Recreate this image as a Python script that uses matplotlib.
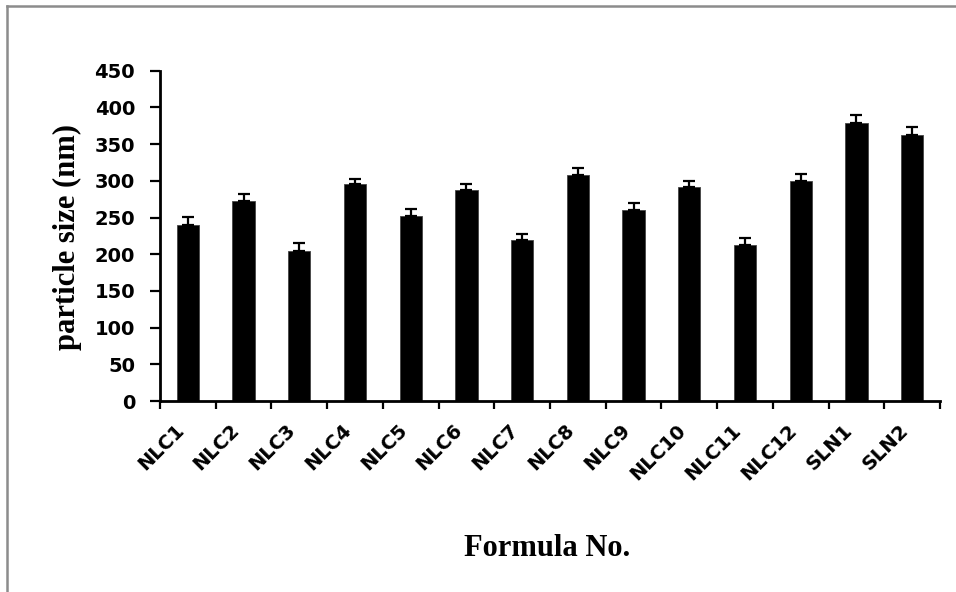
import numpy as np
import matplotlib
matplotlib.use("Agg")
import matplotlib.pyplot as plt
from matplotlib.lines import Line2D

formulas = ["NLC1", "NLC2", "NLC3", "NLC4", "NLC5", "NLC6", "NLC7",
            "NLC8", "NLC9", "NLC10", "NLC11", "NLC12", "SLN1", "SLN2"]
size_nm = [240, 272, 204, 295, 252, 287, 219, 308, 260, 291, 213, 300, 379, 363]
size_sd = [11, 10, 11, 8, 9, 8, 9, 9, 10, 9, 9, 9, 10, 10]
y_ticks = [0, 50, 100, 150, 200, 250, 300, 350, 400, 450]

fig = plt.figure(figsize=(9.56, 5.92), dpi=100)
ax = fig.add_axes([0.1674, 0.3226, 0.8159, 0.558])

x = np.arange(len(formulas))
err = [np.zeros(len(size_sd)), size_sd]
ax.bar(x, size_nm, width=0.4, color="black", edgecolor="#444444", linewidth=0.6,
       yerr=err, error_kw=dict(ecolor="black", elinewidth=1.6, capsize=4, capthick=1.6))

ax.set_xlim(-0.5, len(formulas) - 0.5)
ax.set_ylim(0, 450)
ax.set_yticks(y_ticks)
ax.set_yticklabels([str(v) for v in y_ticks], fontsize=14, fontweight="bold",
                   family="DejaVu Sans")

# ticks between categories, labels at centers
ax.set_xticks(np.arange(-0.5, len(formulas)))
ax.set_xticklabels([])
ax.set_xticks(x, minor=True)
ax.set_xticklabels(formulas, minor=True, rotation=45, ha="right", va="top",
                   fontsize=14, fontweight="bold", family="DejaVu Sans")
ax.tick_params(axis="x", which="major", direction="out", length=6, width=1.6)
ax.tick_params(axis="x", which="minor", length=0, pad=14)
ax.tick_params(axis="y", direction="out", length=7, width=1.6, pad=11)

for side in ["top", "right"]:
    ax.spines[side].set_visible(False)
for side in ["left", "bottom"]:
    ax.spines[side].set_linewidth(2)

fig.text(67 / 956, 1 - 237 / 592, "particle size (nm)", rotation=90,
         ha="center", va="center", fontsize=22, fontweight="bold",
         family="Liberation Serif")
fig.text(547 / 956, 1 - 548 / 592, "Formula No.", ha="center", va="center",
         fontsize=22, fontweight="bold", family="Liberation Serif")

# gray frame around the chart area
fig.add_artist(Line2D([7 / 956, 1.0], [1 - 6 / 592] * 2, color="#8c8c8c",
                      linewidth=1.8, transform=fig.transFigure))
fig.add_artist(Line2D([7 / 956] * 2, [0.0, 1 - 6 / 592], color="#8c8c8c",
                      linewidth=1.8, transform=fig.transFigure))

fig.savefig("out.png", dpi=100)
